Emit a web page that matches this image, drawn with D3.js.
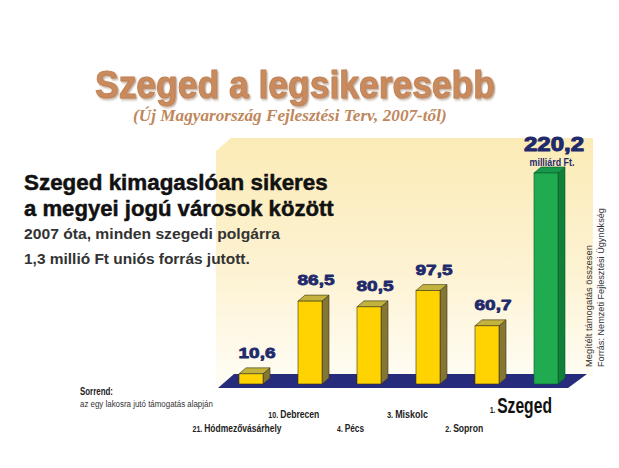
<!DOCTYPE html>
<html><head><meta charset="utf-8">
<script src="https://cdn.jsdelivr.net/npm/d3@7"></script>
<style>body{margin:0;background:#fff}svg{display:block}</style>
</head><body>
<script>
const categories = ["Hódmezővásárhely","Debrecen","Pécs","Miskolc","Sopron","Szeged"];
const ranks = ["21.","10.","4.","3.","2.","1."];
const values = [10.6, 86.5, 80.5, 97.5, 60.7, 220.2];
const valueLabels = ["10,6","86,5","80,5","97,5","60,7","220,2"];
const labelRow = [2,1,2,1,2,0];

const W=619,H=468;
const svg=d3.select("body").append("svg").attr("width",W).attr("height",H);
const defs=svg.append("defs");
const g1=defs.append("linearGradient").attr("id","panel").attr("x1",0).attr("y1",0).attr("x2",0).attr("y2",1);
g1.append("stop").attr("offset","0%").attr("stop-color","#fbebb6");
g1.append("stop").attr("offset","55%").attr("stop-color","#fdf3d4");
g1.append("stop").attr("offset","100%").attr("stop-color","#fffdf6");
const sh=defs.append("filter").attr("id","shadow").attr("x","-5%").attr("y","-20%").attr("width","110%").attr("height","140%");
sh.append("feDropShadow").attr("dx",1.5).attr("dy",1.5).attr("stdDeviation",0.8).attr("flood-color","#6e4528").attr("flood-opacity",0.45);

const x=d3.scaleBand().domain(categories).range([239,558]).paddingInner(0.593).paddingOuter(0);
const y=d3.scaleLinear().domain([0,220.2]).range([384,173]);
const bw=x.bandwidth(), dx=7, dy=6;
const y0=y(0);
const xr=x.range();

const cond="'Liberation Sans Narrow','Arial Narrow','Liberation Sans',sans-serif";
const sans="'Liberation Sans', Arial, sans-serif";

// text helper: horizontally scales text to a target width
function fitText(parent, str, tx, ty, width, opts){
  const t=parent.append("text").attr("x",0).attr("y",0)
    .attr("font-family",opts.family||cond).attr("font-size",opts.size)
    .attr("font-weight",opts.weight||"normal").attr("fill",opts.fill||"#222")
    .attr("text-anchor",opts.anchor||"start");
  if(opts.style) t.attr("font-style",opts.style);
  if(opts.stroke){t.attr("stroke",opts.stroke).attr("stroke-width",opts.sw||0.5).attr("stroke-linejoin","round");}
  if(opts.filter) t.attr("filter",opts.filter);
  if(opts.parts){opts.parts.forEach(p=>t.append("tspan").attr("font-size",p[1]).text(p[0]));}
  else t.text(str);
  const w=t.node().getComputedTextLength();
  const sx=width/w;
  t.attr("transform",`translate(${tx},${ty})${opts.rotate?` rotate(${opts.rotate})`:""} scale(${sx},1)`);
  return t;
}

// back panel
const pl=xr[0]-23, pr=xr[1]+35, pt=138;
svg.append("polygon").attr("points",[[pl,y0+4],[pl,pt+13],[pl+15,pt],[pr,pt],[pr,y0-8]].join(" ")).attr("fill","url(#panel)");

// floor
svg.append("polygon").attr("points",[[xr[0]-21,y0+4],[xr[0]-5,y0-10],[xr[1]+29,y0-10],[xr[1]+10,y0+4]].join(" ")).attr("fill","#272b7c");

// bars
const bars=svg.append("g").selectAll("g").data(categories).join("g");
bars.each(function(c,i){
  const gg=d3.select(this);
  const bx=x(c), by=y(values[i]);
  const green=i===5;
  const front=green?"#20ab50":"#ffd300", side=green?"#0f7f3a":"#857634", top=green?"#17974a":"#c3b23d";
  const st=green?"#0b5c2a":"#3b3518";
  gg.append("polygon").attr("points",[[bx+bw,by],[bx+bw+dx,by-dy],[bx+bw+dx,y0-dy],[bx+bw,y0]].join(" ")).attr("fill",side).attr("stroke",st).attr("stroke-width",0.6);
  gg.append("polygon").attr("points",[[bx,by],[bx+dx,by-dy],[bx+bw+dx,by-dy],[bx+bw,by]].join(" ")).attr("fill",top).attr("stroke",st).attr("stroke-width",0.6);
  gg.append("rect").attr("x",bx).attr("y",by).attr("width",bw).attr("height",y0-by).attr("fill",front).attr("stroke",st).attr("stroke-width",0.6);
});

// value labels
const vl=svg.append("g");
categories.forEach((c,i)=>{
  if(i<5){
    fitText(vl,valueLabels[i],x(c)+bw/2+6,y(values[i])-16,37,{family:sans,size:15,weight:"bold",fill:"#1f2a6c",stroke:"#1f2a6c",sw:0.8,anchor:"middle"});
  } else {
    fitText(vl,valueLabels[i],x(c)+bw/2+8,y(values[i])-22,60,{family:sans,size:21,weight:"bold",fill:"#1f2a6c",stroke:"#1f2a6c",sw:1.1,anchor:"middle"});
    fitText(vl,"milliárd Ft.",x(c)+bw/2+6,y(values[i])-7,45,{size:10,weight:"bold",fill:"#1f2a6c",anchor:"middle"});
  }
});

// title
fitText(svg,"Szeged a legsikeresebb",95,98,400,{family:sans,size:38,weight:"bold",fill:"#c98b5d",stroke:"#c08256",sw:1,filter:"url(#shadow)"});
fitText(svg,"(Új Magyarország Fejlesztési Terv, 2007-től)",133,121,314,{family:"'Liberation Serif','Times New Roman',serif",size:16,weight:"bold",style:"italic",fill:"#bf875c"});

// headline
const hl=[["Szeged kimagaslóan sikeres",190,22.5,304,"#111",0.5],["a megyei jogú városok között",215.5,22.5,310,"#111",0.5],
  ["2007 óta, minden szegedi polgárra",239,15,256,"#333",0],["1,3 millió Ft uniós forrás jutott.",264,15,226,"#333",0]];
hl.forEach(([t,yy,fs,tl,col,sw])=>fitText(svg,t,24,yy,tl,{size:fs,weight:"bold",fill:col,stroke:sw?col:null,sw:sw}));

// side notes
fitText(svg,"Megítélt támogatás összesen",592,367,122,{size:9,fill:"#333",rotate:-90});
fitText(svg,"Forrás: Nemzeti Fejlesztési Ügynökség",604,367,159,{size:9,fill:"#333",rotate:-90});

// sorrend
fitText(svg,"Sorrend:",80,395,33,{size:10,weight:"bold",fill:"#222"});
fitText(svg,"az egy lakosra jutó támogatás alapján",80,407,133,{size:9.5,fill:"#333"});

// category labels
const rowY={0:413,1:418,2:432};
const labW=[89,51,27,41,38,62];
categories.forEach((c,i)=>{
  const cx=x(c)+bw/2-14-2.2*i;
  const big=i===5;
  fitText(svg,null,cx,rowY[labelRow[i]],labW[i],{size:11.5,weight:"bold",fill:big?"#111":"#222",anchor:"middle",
    parts:[[ranks[i]+" ",big?9:9.5],[c,big?22:11.5]]});
});
</script>
</body></html>
